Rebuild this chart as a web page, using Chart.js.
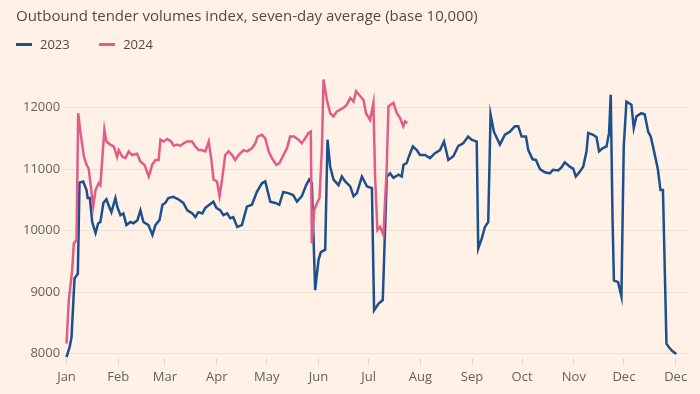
<!DOCTYPE html>
<html>
<head>
<meta charset="utf-8">
<script src="https://cdn.jsdelivr.net/npm/chart.js@4"></script>
<style>
  html, body { margin: 0; padding: 0; background: #fff1e5; }
  #wrap { position: relative; width: 700px; height: 394px; font-family: 'Open Sans', sans-serif; }
  #title { position: absolute; left: 16px; top: 5px; font-size: 15px; color: #4f4a46; white-space: nowrap; }
  #legend { position: absolute; left: 16px; top: 35px; font-size: 13px; color: #4f4a46; }
  .item { display: inline-block; margin-right: 26px; }
  .swatch { display: inline-block; width: 16px; height: 3px; vertical-align: middle; margin-right: 8px; position: relative; top: -1px; }
  #tenderChart { position: absolute; left: 0; top: 0; }
</style>
</head>
<body>
<div id="wrap">
  <canvas id="tenderChart" width="700" height="394"></canvas>
  <div id="title">Outbound tender volumes index, seven-day average (base 10,000)</div>
  <div id="legend">
    <span class="item"><span class="swatch" style="background:#1c4f8d"></span>2023</span>
    <span class="item"><span class="swatch" style="background:#df5d88"></span>2024</span>
  </div>
</div>
<script>
// day of year (0 = 1 Jan) and index value
const days2023 = [0, 1.8, 3, 4.8, 6.8, 7.8, 10, 12, 12.7, 14, 15.4, 17.4, 19, 20.3, 22.1, 23.9, 25.1, 26.9, 29.3, 30.5,
  32.3, 34.1, 35.9, 38.3, 40.1, 42.5, 44.3, 46.1, 49.1, 51.5, 53.3, 55.7, 57.5, 59.2, 61, 64, 67, 70, 72.4, 75.4,
  77.2, 79, 81.4, 83.2, 85.6, 88, 89.8, 92.2, 94, 96.3, 98.1, 99.9, 102.3, 105.1, 108.1, 111.1, 114.1, 117.1, 119.1, 122.1,
  125.1, 127.5, 129.9, 132.8, 135.8, 138.1, 141, 143.6, 145.4, 147, 149, 151, 152.4, 155, 156.4, 158, 160, 163, 165, 167,
  170, 172, 174, 177, 180, 183, 184.3, 186.9, 189.5, 191.9, 193.9, 195.9, 198.9, 200.9, 201.9, 203.9, 204.8, 207.5, 209.9, 211.8,
  214.8, 217.8, 220.8, 223.8, 226.2, 228.8, 231.8, 234.8, 237.7, 240.7, 242.7, 245.8, 246.7, 248.8, 250.7, 252.7, 254.1, 256.1, 259.7, 262.7,
  265.7, 268.7, 270.7, 272.7, 275.3, 276.7, 279.3, 281.3, 283.7, 286.6, 289.6, 291.6, 294.6, 296.6, 298.6, 301.6, 303.6, 305.2, 307.6, 309.6,
  311.6, 312.6, 315.6, 317.6, 319.1, 321.2, 323.6, 325.1, 326.1, 327.2, 328, 330.5, 332.5, 333.9, 335.5, 338.5, 339.9, 341.5, 344.5, 346.5,
  348.5, 350.1, 351.9, 354.4, 355.9, 357.4, 359.5, 361, 363, 365.4];
const values2023 = [7940, 8100, 8260, 9220, 9300, 10780, 10800, 10660, 10530, 10530, 10140, 9960, 10120, 10140, 10450, 10510, 10420, 10300, 10530, 10380,
  10250, 10280, 10090, 10140, 10120, 10170, 10330, 10140, 10090, 9930, 10090, 10170, 10420, 10450, 10530, 10550, 10510, 10450, 10330, 10280,
  10220, 10300, 10280, 10370, 10420, 10470, 10370, 10330, 10250, 10280, 10200, 10220, 10060, 10090, 10390, 10420, 10630, 10770, 10800, 10470,
  10450, 10420, 10630, 10610, 10580, 10470, 10560, 10740, 10830, 10770, 9030, 9520, 9650, 9690, 11480, 11040, 10830, 10740, 10880, 10800,
  10720, 10560, 10610, 10880, 10720, 10690, 8700, 8810, 8870, 10880, 10930, 10860, 10910, 10880, 11070, 11100, 11180, 11370, 11310, 11230,
  11230, 11180, 11260, 11310, 11450, 11150, 11210, 11380, 11420, 11530, 11480, 11450, 9710, 9870, 10060, 10140, 11890, 11610, 11400, 11560,
  11610, 11700, 11700, 11530, 11530, 11310, 11160, 11150, 11000, 10950, 10930, 10990, 10980, 11030, 11110, 11040, 11010, 10880, 10960, 11040,
  11290, 11590, 11560, 11520, 11290, 11340, 11370, 11590, 12210, 10170, 9190, 9160, 8930, 11370, 12100, 12050, 11670, 11860, 11910, 11890,
  11610, 11530, 11310, 10990, 10660, 10660, 8160, 8100, 8040, 7990];

const days2024 = [0, 1.4, 3.4, 4.4, 6, 7, 8.4, 10.4, 12, 13.3, 16, 17.4, 19.3, 20.3, 22.7, 23.9, 26.3, 28.3, 30.3, 31.3,
  33.3, 35.3, 37.3, 39.3, 42.3, 44.3, 46.7, 49.3, 51.3, 53.3, 55.2, 56.3, 58.2, 60.3, 62.7, 64.2, 66.2, 68.2, 70.2, 72.2,
  75.2, 77.2, 79.2, 81.2, 83.2, 85.2, 86.8, 88.1, 90.2, 91.7, 93.2, 95.1, 97.1, 99.2, 101.1, 103.1, 106.1, 108.1, 111.1, 113.1,
  114.5, 117.1, 119.1, 121.1, 123.1, 125.7, 127.6, 130, 132.1, 134, 136.4, 139, 141, 143, 145, 146.4, 147, 148.4, 150, 151.6,
  153, 154, 156, 158, 160, 162, 164, 166, 168, 170, 172, 173.5, 175.9, 177.9, 179.5, 181.9, 183.9, 184.9, 186.3, 187.9,
  189.9, 191.9, 192.9, 195.9, 197.9, 199.9, 201.8, 202.9, 204.2];
const values2024 = [8160, 8870, 9360, 9790, 9850, 11910, 11590, 11210, 11070, 11010, 10390, 10660, 10770, 10740, 11640, 11450, 11400, 11370, 11200, 11310,
  11210, 11180, 11290, 11230, 11250, 11120, 11070, 10880, 11070, 11150, 11150, 11480, 11450, 11490, 11450, 11380, 11400, 11380, 11420, 11450,
  11450, 11370, 11310, 11310, 11290, 11450, 11150, 10830, 10800, 10560, 10830, 11230, 11290, 11230, 11150, 11230, 11310, 11290, 11340, 11420,
  11530, 11560, 11500, 11290, 11180, 11070, 11100, 11230, 11340, 11530, 11530, 11480, 11420, 11500, 11590, 11610, 9790, 10330, 10440, 10530,
  11310, 12460, 12130, 11910, 11860, 11940, 11970, 12000, 12050, 12160, 12100, 12270, 12190, 12130, 11910, 11800, 12080, 10880, 10010, 10060,
  9930, 11040, 12020, 12080, 11910, 11830, 11700, 11780, 11750];

const monthTicks = [0, 31, 59, 90, 120, 151, 181, 212, 243, 273, 304, 334, 365];
const monthLabels = ['Jan', 'Feb', 'Mar', 'Apr', 'May', 'Jun', 'Jul', 'Aug', 'Sep', 'Oct', 'Nov', 'Dec', 'Dec'];
const yTicks = [8000, 9000, 10000, 11000, 12000];

const toPoints = (xs, ys) => xs.map((x, i) => ({ x: x, y: ys[i] }));

const ctx = document.getElementById('tenderChart').getContext('2d');

new Chart(ctx, {
  type: 'line',
  data: {
    datasets: [
      {
        label: '2024',
        data: toPoints(days2024, values2024),
        borderColor: '#df5d88',
        borderWidth: 2.5,
        pointRadius: 0,
        tension: 0,
        order: 1
      },
      {
        label: '2023',
        data: toPoints(days2023, values2023),
        borderColor: '#1c4f8d',
        borderWidth: 2.5,
        pointRadius: 0,
        tension: 0,
        order: 2
      }
    ]
  },
  options: {
    responsive: false,
    animation: false,
    layout: { padding: { left: 20, right: 11, top: 77, bottom: 5 } },
    plugins: {
      legend: { display: false },
      tooltip: { enabled: false }
    },
    scales: {
      x: {
        type: 'linear',
        min: -2,
        max: 373,
        afterBuildTicks: axis => { axis.ticks = monthTicks.map(v => ({ value: v })); },
        ticks: {
          color: '#66605c',
          font: { family: 'Open Sans', size: 13 },
          padding: 4,
          maxRotation: 0,
          autoSkip: false,
          callback: (v, i) => monthLabels[i]
        },
        grid: { drawOnChartArea: false, drawTicks: true, tickLength: 7, color: '#e3d5ca' },
        border: { display: false }
      },
      y: {
        min: 7920,
        max: 12500,
        afterBuildTicks: axis => { axis.ticks = yTicks.map(v => ({ value: v })); },
        ticks: {
          color: '#66605c',
          font: { family: 'Open Sans', size: 13 },
          padding: 3,
          callback: v => String(v)
        },
        grid: { color: '#eee0d4', drawTicks: false },
        border: { display: false }
      }
    }
  }
});
</script>
</body>
</html>
